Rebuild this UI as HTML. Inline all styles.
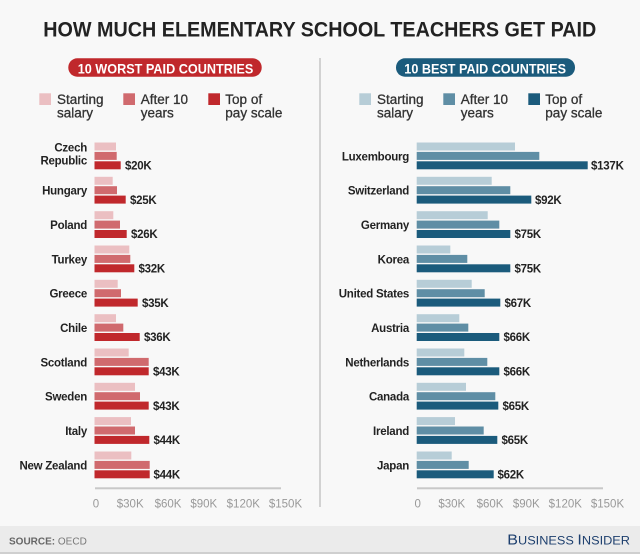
<!DOCTYPE html>
<html><head><meta charset="utf-8"><style>
html,body{margin:0;padding:0;background:#f8f8f8;}
svg{display:block;}
text{font-family:"Liberation Sans",Arial,sans-serif;}
.cl{font-size:11.5px;font-weight:bold;fill:#222;letter-spacing:-0.25px;text-anchor:end;}
.vl{font-size:11.5px;font-weight:bold;fill:#222;letter-spacing:-0.25px;}
.lg{font-size:13.5px;fill:#333;stroke:#333;stroke-width:0.3;}
.tk{font-size:11.5px;fill:#999;text-anchor:middle;}
</style></head><body>
<svg width="640" height="554" viewBox="0 0 640 554" xmlns="http://www.w3.org/2000/svg">
<rect x="0" y="0" width="640" height="554" fill="#f8f8f8"/>
<text x="43.3" y="36.7" font-size="21" font-weight="bold" fill="#222" textLength="553" lengthAdjust="spacingAndGlyphs">HOW MUCH ELEMENTARY SCHOOL TEACHERS GET PAID</text>

<!-- divider -->
<rect x="319" y="58" width="2" height="449" fill="#d2d2d2"/>

<!-- pills -->
<rect x="68.3" y="58.3" width="193.4" height="18.4" rx="9" fill="#c0282c"/>
<text x="77.7" y="73.3" font-size="14" font-weight="bold" fill="#fff" textLength="175.6" lengthAdjust="spacingAndGlyphs">10 WORST PAID COUNTRIES</text>
<rect x="396" y="58.3" width="179" height="18.4" rx="9" fill="#1b5b7c"/>
<text x="404.3" y="73.3" font-size="14" font-weight="bold" fill="#fff" textLength="161.7" lengthAdjust="spacingAndGlyphs">10 BEST PAID COUNTRIES</text>

<!-- legends left -->
<rect x="39.3" y="93.3" width="11.7" height="11.7" fill="#ebbfc2"/>
<text class="lg" x="57" y="104">Starting</text><text class="lg" x="57" y="117.3">salary</text>
<rect x="123.3" y="93.3" width="11.7" height="11.7" fill="#d06a6e"/>
<text class="lg" x="140.7" y="104">After 10</text><text class="lg" x="140.7" y="117.3">years</text>
<rect x="208.3" y="93.3" width="11.7" height="11.7" fill="#c0282c"/>
<text class="lg" x="225.3" y="104">Top of</text><text class="lg" x="225.3" y="117.3">pay scale</text>
<!-- legends right -->
<rect x="359.3" y="93.3" width="11.7" height="11.7" fill="#b7cdd7"/>
<text class="lg" x="377" y="104">Starting</text><text class="lg" x="377" y="117.3">salary</text>
<rect x="443.3" y="93.3" width="11.7" height="11.7" fill="#5f8ea5"/>
<text class="lg" x="460.7" y="104">After 10</text><text class="lg" x="460.7" y="117.3">years</text>
<rect x="528.3" y="93.3" width="11.7" height="11.7" fill="#1b5b7c"/>
<text class="lg" x="545.3" y="104">Top of</text><text class="lg" x="545.3" y="117.3">pay scale</text>

<!-- LEFT CHART -->
<g id="left">
<!-- Czech -->
<rect x="94.5" y="142.5" width="21.5" height="8" fill="#ebbfc2"/>
<rect x="94.5" y="151.9" width="22.2" height="8" fill="#d06a6e"/>
<rect x="94.5" y="161.3" width="26.2" height="8" fill="#c0282c"/>
<text class="cl" x="87" y="151.5">Czech</text><text class="cl" x="87" y="164.3">Republic</text>
<text class="vl" x="125" y="169.5">$20K</text>
<!-- Hungary y0=176.83 -->
<rect x="94.5" y="176.8" width="18.2" height="8" fill="#ebbfc2"/>
<rect x="94.5" y="186.2" width="22.5" height="8" fill="#d06a6e"/>
<rect x="94.5" y="195.6" width="31.2" height="8" fill="#c0282c"/>
<text class="cl" x="87" y="194.6">Hungary</text>
<text class="vl" x="130" y="203.8">$25K</text>
<!-- Poland y0=211.16 -->
<rect x="94.5" y="211.2" width="18.8" height="8" fill="#ebbfc2"/>
<rect x="94.5" y="220.6" width="25.5" height="8" fill="#d06a6e"/>
<rect x="94.5" y="230" width="32.2" height="8" fill="#c0282c"/>
<text class="cl" x="87" y="229">Poland</text>
<text class="vl" x="131" y="238.2">$26K</text>
<!-- Turkey y0=245.49 -->
<rect x="94.5" y="245.5" width="34.8" height="8" fill="#ebbfc2"/>
<rect x="94.5" y="254.9" width="35.8" height="8" fill="#d06a6e"/>
<rect x="94.5" y="264.3" width="39.8" height="8" fill="#c0282c"/>
<text class="cl" x="87" y="263.3">Turkey</text>
<text class="vl" x="138.5" y="272.5">$32K</text>
<!-- Greece y0=279.82 -->
<rect x="94.5" y="279.8" width="23.2" height="8" fill="#ebbfc2"/>
<rect x="94.5" y="289.2" width="26.5" height="8" fill="#d06a6e"/>
<rect x="94.5" y="298.6" width="43.2" height="8" fill="#c0282c"/>
<text class="cl" x="87" y="297.6">Greece</text>
<text class="vl" x="142" y="306.8">$35K</text>
<!-- Chile y0=314.15 -->
<rect x="94.5" y="314.2" width="21.5" height="8" fill="#ebbfc2"/>
<rect x="94.5" y="323.6" width="28.8" height="8" fill="#d06a6e"/>
<rect x="94.5" y="333" width="45.2" height="8" fill="#c0282c"/>
<text class="cl" x="87" y="332">Chile</text>
<text class="vl" x="144" y="341.2">$36K</text>
<!-- Scotland y0=348.48 -->
<rect x="94.5" y="348.5" width="34.2" height="8" fill="#ebbfc2"/>
<rect x="94.5" y="357.9" width="54.2" height="8" fill="#d06a6e"/>
<rect x="94.5" y="367.3" width="54.2" height="8" fill="#c0282c"/>
<text class="cl" x="87" y="366.3">Scotland</text>
<text class="vl" x="153" y="375.5">$43K</text>
<!-- Sweden y0=382.81 -->
<rect x="94.5" y="382.8" width="40.5" height="8" fill="#ebbfc2"/>
<rect x="94.5" y="392.2" width="45.5" height="8" fill="#d06a6e"/>
<rect x="94.5" y="401.6" width="54.2" height="8" fill="#c0282c"/>
<text class="cl" x="87" y="400.6">Sweden</text>
<text class="vl" x="153" y="409.8">$43K</text>
<!-- Italy y0=417.14 -->
<rect x="94.5" y="417.1" width="36.5" height="8" fill="#ebbfc2"/>
<rect x="94.5" y="426.5" width="40.5" height="8" fill="#d06a6e"/>
<rect x="94.5" y="435.9" width="54.8" height="8" fill="#c0282c"/>
<text class="cl" x="87" y="434.9">Italy</text>
<text class="vl" x="153.5" y="444.1">$44K</text>
<!-- NZ y0=451.47 -->
<rect x="94.5" y="451.5" width="36.8" height="8" fill="#ebbfc2"/>
<rect x="94.5" y="460.9" width="55.2" height="8" fill="#d06a6e"/>
<rect x="94.5" y="470.3" width="55.2" height="8" fill="#c0282c"/>
<text class="cl" x="87" y="469.3">New Zealand</text>
<text class="vl" x="153.5" y="478.5">$44K</text>
</g>
<!-- left axis -->
<rect x="95" y="487.3" width="186" height="2" fill="#c8c8c8"/>
<text class="tk" x="96" y="507.5">0</text>
<text class="tk" x="130.2" y="507.5">$30K</text>
<text class="tk" x="168" y="507.5">$60K</text>
<text class="tk" x="203.8" y="507.5">$90K</text>
<text class="tk" x="243.3" y="507.5">$120K</text>
<text class="tk" x="285.5" y="507.5">$150K</text>

<!-- RIGHT CHART -->
<g id="right">
<rect x="416.7" y="142.5" width="98.3" height="8" fill="#b7cdd7"/>
<rect x="416.7" y="151.9" width="122.6" height="8" fill="#5f8ea5"/>
<rect x="416.7" y="161.3" width="171" height="8" fill="#1b5b7c"/>
<text class="cl" x="409" y="160.3">Luxembourg</text>
<text class="vl" x="591" y="169.5">$137K</text>

<rect x="416.7" y="176.8" width="75" height="8" fill="#b7cdd7"/>
<rect x="416.7" y="186.2" width="93.6" height="8" fill="#5f8ea5"/>
<rect x="416.7" y="195.6" width="114.6" height="8" fill="#1b5b7c"/>
<text class="cl" x="409" y="194.6">Switzerland</text>
<text class="vl" x="535" y="203.8">$92K</text>

<rect x="416.7" y="211.2" width="71" height="8" fill="#b7cdd7"/>
<rect x="416.7" y="220.6" width="82.6" height="8" fill="#5f8ea5"/>
<rect x="416.7" y="230" width="93.6" height="8" fill="#1b5b7c"/>
<text class="cl" x="409" y="229">Germany</text>
<text class="vl" x="514.5" y="238.2">$75K</text>

<rect x="416.7" y="245.5" width="33.6" height="8" fill="#b7cdd7"/>
<rect x="416.7" y="254.9" width="50.6" height="8" fill="#5f8ea5"/>
<rect x="416.7" y="264.3" width="93.6" height="8" fill="#1b5b7c"/>
<text class="cl" x="409" y="263.3">Korea</text>
<text class="vl" x="514.5" y="272.5">$75K</text>

<rect x="416.7" y="279.8" width="55" height="8" fill="#b7cdd7"/>
<rect x="416.7" y="289.2" width="68" height="8" fill="#5f8ea5"/>
<rect x="416.7" y="298.6" width="83.6" height="8" fill="#1b5b7c"/>
<text class="cl" x="409" y="297.6">United States</text>
<text class="vl" x="504.5" y="306.8">$67K</text>

<rect x="416.7" y="314.2" width="42.6" height="8" fill="#b7cdd7"/>
<rect x="416.7" y="323.6" width="51.6" height="8" fill="#5f8ea5"/>
<rect x="416.7" y="333" width="82.6" height="8" fill="#1b5b7c"/>
<text class="cl" x="409" y="332">Austria</text>
<text class="vl" x="503.5" y="341.2">$66K</text>

<rect x="416.7" y="348.5" width="47.6" height="8" fill="#b7cdd7"/>
<rect x="416.7" y="357.9" width="70.6" height="8" fill="#5f8ea5"/>
<rect x="416.7" y="367.3" width="82.6" height="8" fill="#1b5b7c"/>
<text class="cl" x="409" y="366.3">Netherlands</text>
<text class="vl" x="503.5" y="375.5">$66K</text>

<rect x="416.7" y="382.8" width="49.3" height="8" fill="#b7cdd7"/>
<rect x="416.7" y="392.2" width="78.6" height="8" fill="#5f8ea5"/>
<rect x="416.7" y="401.6" width="81.6" height="8" fill="#1b5b7c"/>
<text class="cl" x="409" y="400.6">Canada</text>
<text class="vl" x="502.5" y="409.8">$65K</text>

<rect x="416.7" y="417.1" width="38.3" height="8" fill="#b7cdd7"/>
<rect x="416.7" y="426.5" width="67" height="8" fill="#5f8ea5"/>
<rect x="416.7" y="435.9" width="80.6" height="8" fill="#1b5b7c"/>
<text class="cl" x="409" y="434.9">Ireland</text>
<text class="vl" x="501.5" y="444.1">$65K</text>

<rect x="416.7" y="451.5" width="35" height="8" fill="#b7cdd7"/>
<rect x="416.7" y="460.9" width="52" height="8" fill="#5f8ea5"/>
<rect x="416.7" y="470.3" width="77" height="8" fill="#1b5b7c"/>
<text class="cl" x="409" y="469.3">Japan</text>
<text class="vl" x="497.5" y="478.5">$62K</text>
</g>
<!-- right axis -->
<rect x="417" y="487.3" width="186" height="2" fill="#c8c8c8"/>
<text class="tk" x="417.7" y="507.5">0</text>
<text class="tk" x="451.8" y="507.5">$30K</text>
<text class="tk" x="490" y="507.5">$60K</text>
<text class="tk" x="526.3" y="507.5">$90K</text>
<text class="tk" x="565.3" y="507.5">$120K</text>
<text class="tk" x="607.5" y="507.5">$150K</text>

<!-- footer -->
<rect x="0" y="526" width="640" height="28" fill="#ebebeb"/>
<rect x="0" y="552" width="640" height="2" fill="#cfcfcf"/>
<text x="9" y="544.3" font-size="10" fill="#777"><tspan font-weight="bold" fill="#666">SOURCE:</tspan> OECD</text>
<text x="507.3" y="544.3" font-family="Liberation Serif, serif" fill="#1d3f6e" textLength="122.7" lengthAdjust="spacingAndGlyphs"><tspan font-size="14.5">B</tspan><tspan font-size="11.5">USINESS </tspan><tspan font-size="14.5">I</tspan><tspan font-size="11.5">NSIDER</tspan></text>
</svg>
</body></html>
